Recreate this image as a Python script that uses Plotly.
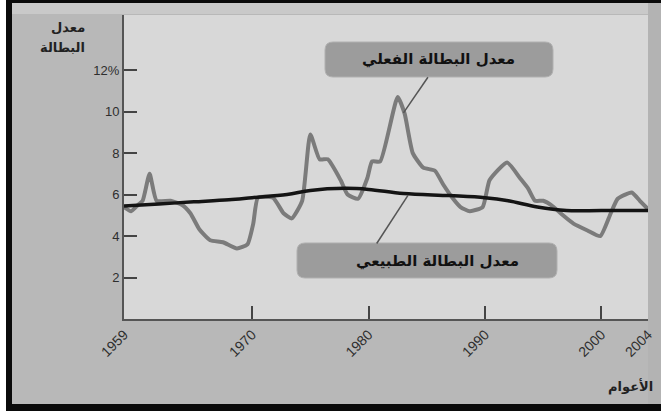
import plotly.graph_objects as go

# Actual unemployment rate (%) by year
actual_years = [1959.0, 1959.6, 1960.2, 1960.6, 1961.2, 1961.8, 1963.0, 1964.0, 1964.7, 1965.5,
                1966.4, 1967.5, 1968.7, 1969.6, 1970.1, 1970.5, 1971.8, 1972.7, 1973.4, 1974.3,
                1975.0, 1975.8, 1976.5, 1977.6, 1978.2, 1979.1, 1979.9, 1980.3, 1981.0, 1982.5,
                1983.1, 1983.8, 1984.7, 1985.7, 1986.4, 1987.2, 1987.9, 1988.7, 1989.8, 1990.4,
                1991.9, 1993.0, 1993.7, 1994.3, 1995.0, 1995.9, 1996.7, 1997.6, 1998.8, 1999.9,
                2000.8, 2001.4, 2002.6, 2003.3, 2004.0]
actual_rate = [5.4, 5.2, 5.5, 5.7, 7.0, 5.7, 5.7, 5.5, 5.1, 4.3,
               3.8, 3.7, 3.4, 3.6, 4.6, 5.85, 5.85, 5.1, 4.85, 5.7,
               8.9, 7.7, 7.7, 6.7, 6.0, 5.8, 6.8, 7.6, 7.6, 10.7,
               9.9, 8.0, 7.3, 7.15, 6.5, 5.85, 5.4, 5.2, 5.4, 6.7,
               7.55, 6.8, 6.3, 5.7, 5.7, 5.4, 5.0, 4.6, 4.27, 4.0,
               5.1, 5.8, 6.1, 5.7, 5.3]

# Natural unemployment rate (%) by year
natural_years = [1959, 1962, 1965, 1968, 1970, 1973, 1975, 1978, 1980, 1983,
                 1987, 1990, 1992, 1994.5, 1997, 2000, 2004]
natural_rate = [5.45, 5.55, 5.65, 5.75, 5.85, 6.0, 6.2, 6.3, 6.25, 6.05,
                5.95, 5.85, 5.7, 5.4, 5.23, 5.23, 5.23]

x_ticks = [1959, 1970, 1980, 1990, 2000, 2004]
x_tick_text = ["1959", "1970", "1980", "1990", "2000", "2004"]
y_ticks = [2, 4, 6, 8, 10, 12]
y_tick_text = ["2", "4", "6", "8", "10", "12%"]

W, H = 661, 411
ARABIC = "DejaVu Sans"


def px(x):
    return x / W


def py(y):
    return 1 - y / H


fig = go.Figure()

fig.add_trace(go.Scatter(
    x=actual_years, y=actual_rate, mode="lines",
    line=dict(color="#7b7b7b", width=4, shape="spline", smoothing=0.5),
    cliponaxis=False, hoverinfo="skip", showlegend=False,
))
fig.add_trace(go.Scatter(
    x=natural_years, y=natural_rate, mode="lines",
    line=dict(color="#141414", width=3.5, shape="spline", smoothing=1.0),
    cliponaxis=False, hoverinfo="skip", showlegend=False,
))


def rounded_rect(x0, y0, x1, y1, r):
    # rounded rectangle path in pixel coordinates converted to paper fractions
    pts = [
        ("M", x0 + r, y0), ("L", x1 - r, y0), ("Q", x1, y0, x1, y0 + r),
        ("L", x1, y1 - r), ("Q", x1, y1, x1 - r, y1), ("L", x0 + r, y1),
        ("Q", x0, y1, x0, y1 - r), ("L", x0, y0 + r), ("Q", x0, y0, x0 + r, y0),
    ]
    parts = []
    for p in pts:
        cmd = p[0]
        coords = p[1:]
        s = []
        for i in range(0, len(coords), 2):
            s.append(f"{px(coords[i]):.5f},{py(coords[i + 1]):.5f}")
        parts.append(cmd + " " + " ".join(s))
    return " ".join(parts) + " Z"


shapes = [
    # frame pieces
    dict(type="rect", xref="paper", yref="paper", x0=0, x1=1, y0=py(14), y1=py(3),
         fillcolor="#c9c9c9", line_width=0, layer="below"),
    dict(type="rect", xref="paper", yref="paper", x0=px(648), x1=1, y0=0, y1=1,
         fillcolor="#b3b3b3", line_width=0, layer="below"),
    dict(type="rect", xref="paper", yref="paper", x0=0, x1=1, y0=py(3), y1=1,
         fillcolor="#0a0a0a", line_width=0),
    dict(type="rect", xref="paper", yref="paper", x0=0, x1=px(6), y0=0, y1=1,
         fillcolor="#ffffff", line_width=0),
    dict(type="rect", xref="paper", yref="paper", x0=px(6), x1=px(12), y0=0, y1=py(3),
         fillcolor="#0a0a0a", line_width=0),
    dict(type="rect", xref="paper", yref="paper", x0=px(6), x1=1, y0=0, y1=py(404),
         fillcolor="#0a0a0a", line_width=0),
    # label boxes
    dict(type="path", xref="paper", yref="paper", path=rounded_rect(325, 42, 553, 77, 8),
         fillcolor="#9c9c9c", line=dict(color="#b0b0b0", width=1)),
    dict(type="path", xref="paper", yref="paper", path=rounded_rect(297, 243, 557, 278, 8),
         fillcolor="#9c9c9c", line=dict(color="#b0b0b0", width=1)),
    # connectors from boxes to the lines
    dict(type="line", xref="x", yref="y", x0=1985.1, y0=11.66, x1=1983.0, y1=9.94,
         line=dict(color="#555555", width=1.5)),
    dict(type="line", xref="x", yref="y", x0=1980.7, y0=3.64, x1=1983.4, y1=5.97,
         line=dict(color="#555555", width=1.5)),
]

annotations = [
    dict(xref="paper", yref="paper", x=px(438), y=py(59), text="<b>معدل البطالة الفعلي</b>",
         showarrow=False, font=dict(family=ARABIC, size=15, color="#111111"),
         xanchor="center", yanchor="middle"),
    dict(xref="paper", yref="paper", x=px(437), y=py(261), text="<b>معدل البطالة الطبيعي</b>",
         showarrow=False, font=dict(family=ARABIC, size=15, color="#111111"),
         xanchor="center", yanchor="middle"),
    dict(xref="paper", yref="paper", x=px(87), y=py(27), text="<b>معدل</b>",
         showarrow=False, font=dict(family=ARABIC, size=13, color="#222222"),
         xanchor="right", yanchor="middle"),
    dict(xref="paper", yref="paper", x=px(87), y=py(48), text="<b>البطالة</b>",
         showarrow=False, font=dict(family=ARABIC, size=13, color="#222222"),
         xanchor="right", yanchor="middle"),
    dict(xref="paper", yref="paper", x=px(655), y=py(386), text="<b>الأعوام</b>",
         showarrow=False, font=dict(family=ARABIC, size=13, color="#222222"),
         xanchor="right", yanchor="middle"),
]

fig.update_layout(
    width=W, height=H,
    margin=dict(l=0, r=0, t=0, b=0),
    paper_bgcolor="#b8b8b8",
    plot_bgcolor="#d8d8d8",
    showlegend=False,
    shapes=shapes,
    annotations=annotations,
    xaxis=dict(
        domain=[px(124), px(648)],
        range=[1959, 2004],
        tickmode="array", tickvals=x_ticks, ticktext=x_tick_text,
        tickangle=-45,
        ticks="inside", ticklen=13, tickwidth=1.5, tickcolor="#444444",
        showline=True, linecolor="#555555", linewidth=2,
        showgrid=False, zeroline=False,
        tickfont=dict(family="Liberation Sans", size=14, color="#2e2e2e"),
        automargin=False,
    ),
    yaxis=dict(
        domain=[py(319), py(15)],
        range=[0, 14.66],
        tickmode="array", tickvals=y_ticks, ticktext=y_tick_text,
        ticks="inside", ticklen=13, tickwidth=1.5, tickcolor="#444444",
        showline=True, linecolor="#555555", linewidth=2,
        showgrid=False, zeroline=False,
        tickfont=dict(family="Liberation Sans", size=13, color="#2e2e2e"),
        automargin=False,
    ),
)

fig.write_html("out.html")
